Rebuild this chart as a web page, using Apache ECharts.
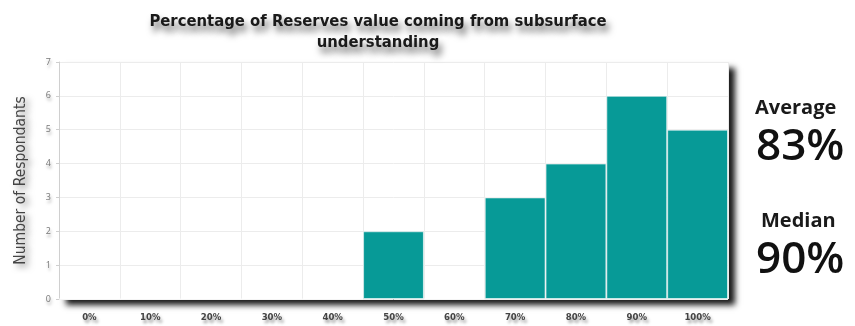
<!DOCTYPE html>
<html>
<head>
<meta charset="utf-8">
<script src="https://cdn.jsdelivr.net/npm/echarts@6/dist/echarts.min.js"></script>
<style>
  html, body { margin: 0; padding: 0; background: #ffffff; }
  #chart { width: 855px; height: 326px; }
</style>
</head>
<body>
<div id="chart"></div>
<script>
// Share of reserves value attributed to subsurface understanding
const categories = ['0%', '10%', '20%', '30%', '40%', '50%', '60%', '70%', '80%', '90%', '100%'];
const respondents = [0, 0, 0, 0, 0, 2, 0, 3, 4, 6, 5];
const yTicks = { min: 0, max: 7, interval: 1 };
const averageText = '83%';
const medianText = '90%';

const chart = echarts.init(document.getElementById('chart'));
const condensed = '"DejaVu Sans Condensed", sans-serif';

chart.setOption({
  animation: false,
  title: {
    text: 'Percentage of Reserves value coming from subsurface\nunderstanding',
    left: 373,
    top: 6,
    textAlign: 'center',
    textStyle: {
      fontFamily: condensed,
      fontSize: 16.5,
      fontWeight: 'bold',
      color: '#1a1a1a',
      lineHeight: 21,
      align: 'center',
      textShadowColor: 'rgba(0,0,0,0.6)',
      textShadowBlur: 7,
      textShadowOffsetX: 3,
      textShadowOffsetY: 6
    }
  },
  grid: {
    left: 59,
    right: 127,
    top: 62,
    bottom: 27,
    show: true,
    backgroundColor: '#ffffff',
    borderWidth: 0,
    shadowColor: 'rgba(0,0,0,0.9)',
    shadowBlur: 6,
    shadowOffsetX: 7,
    shadowOffsetY: 6
  },
  xAxis: {
    type: 'category',
    data: categories,
    axisLine: { show: false },
    axisTick: { show: false },
    splitLine: { show: true, interval: 0, lineStyle: { color: '#ececec', width: 1 } },
    axisLabel: {
      interval: 0,
      margin: 14,
      fontFamily: condensed,
      fontSize: 9.5,
      fontWeight: 'bold',
      color: '#444',
      textShadowColor: 'rgba(0,0,0,0.4)',
      textShadowBlur: 3,
      textShadowOffsetX: 2,
      textShadowOffsetY: 3
    }
  },
  yAxis: {
    type: 'value',
    min: yTicks.min,
    max: yTicks.max,
    interval: yTicks.interval,
    name: 'Number of Respondants',
    nameLocation: 'middle',
    nameGap: 30,
    nameTextStyle: {
      fontFamily: condensed,
      fontSize: 15.5,
      color: '#444',
      textShadowColor: 'rgba(0,0,0,0.5)',
      textShadowBlur: 6,
      textShadowOffsetX: 4,
      textShadowOffsetY: 3
    },
    axisLine: { show: true, lineStyle: { color: '#cfcfcf', width: 1 } },
    axisTick: { show: true, length: 3, lineStyle: { color: '#cfcfcf' } },
    splitLine: { show: true, lineStyle: { color: '#ececec', width: 1 } },
    axisLabel: {
      margin: 8,
      fontFamily: '"Open Sans", sans-serif',
      fontSize: 9,
      color: '#777',
      textShadowColor: 'rgba(0,0,0,0.35)',
      textShadowBlur: 3,
      textShadowOffsetX: 1,
      textShadowOffsetY: 3
    }
  },
  series: [{
    type: 'bar',
    data: respondents,
    barCategoryGap: 0,
    itemStyle: {
      color: '#079a97',
      borderColor: 'rgba(255,255,255,0.55)',
      borderWidth: 1
    }
  }],
  graphic: [
    { type: 'text', left: 755, top: 98, style: { text: 'Average', font: 'bold 20px "Open Sans", sans-serif', fill: '#1a1a1a' } },
    { type: 'text', left: 756, top: 125, style: { text: averageText, font: '600 44px "Open Sans", sans-serif', fill: '#111' } },
    { type: 'text', left: 761, top: 211, style: { text: 'Median', font: 'bold 20px "Open Sans", sans-serif', fill: '#1a1a1a' } },
    { type: 'text', left: 756, top: 238, style: { text: medianText, font: '600 44px "Open Sans", sans-serif', fill: '#111' } }
  ]
});
</script>
</body>
</html>
